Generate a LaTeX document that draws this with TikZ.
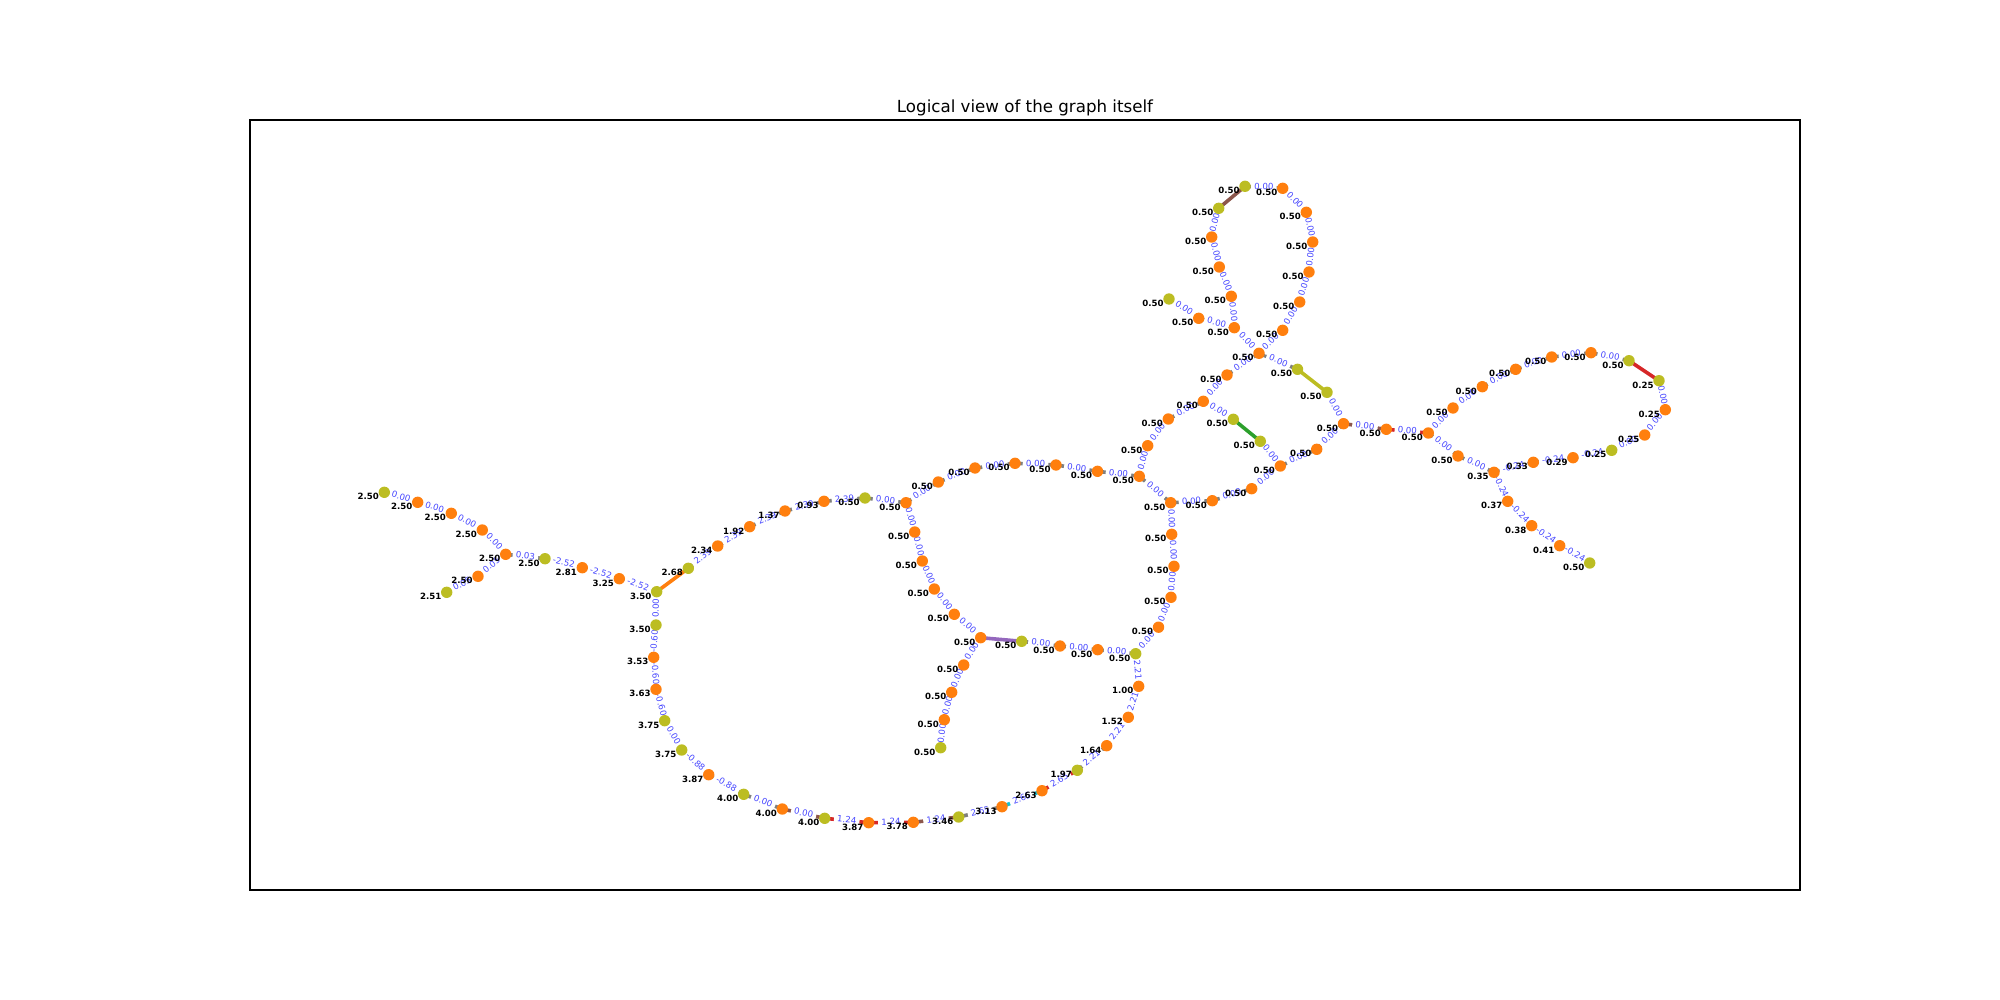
\documentclass[tikz,border=0pt]{standalone}
\usepackage{fontspec}
\setmainfont{DejaVu Sans}
\definecolor{tor}{HTML}{FF7F0E}
\definecolor{tol}{HTML}{BCBD22}
\definecolor{tre}{HTML}{D62728}
\definecolor{tbr}{HTML}{8C564B}
\definecolor{tgr}{HTML}{7F7F7F}
\definecolor{tcy}{HTML}{17BECF}
\definecolor{tpu}{HTML}{9467BD}
\definecolor{tgn}{HTML}{2CA02C}
\definecolor{elc}{RGB}{70,70,255}
\pgfdeclarelayer{edges}\pgfdeclarelayer{elabels}\pgfdeclarelayer{nlabels}
\pgfsetlayers{edges,elabels,main,nlabels}
\tikzset{
 vtx/.style={circle,inner sep=0pt,minimum size=8.2pt,draw=none},
 nlab/.style={font=\fontsize{6.2}{7}\selectfont\bfseries,inner sep=0pt,text=black},
 elab/.style={font=\fontsize{6.2}{7}\selectfont,text=elc,fill=white,inner xsep=2.3pt,inner ysep=1.8pt,rounded corners=1pt,text height=4.8pt,text depth=1.3pt},
 edg/.style={line width=2.6pt}}
\newcommand\nd[4]{\node[vtx,fill=#3] (#1) at (#2) {};%
 \begin{pgfonlayer}{nlabels}\node[nlab] (#1l) at ([shift={(-16,4.5)}]#1.center) {#4};\end{pgfonlayer}}
\newcommand\ed[4]{\begin{pgfonlayer}{edges}\draw[edg,#3] (#1.center) -- (#2.center);\end{pgfonlayer}%
 \ifx\relax#4\relax\else\begin{pgfonlayer}{elabels}\path (#1.center) -- (#2.center) node[elab,midway,sloped] {#4};\end{pgfonlayer}\fi}
\begin{document}
\begin{tikzpicture}[x=0.72pt,y=-0.72pt]
\useasboundingbox (0,0) rectangle (2000,1000);
\draw[line width=0.8pt] (250,120) rectangle (1800,890);
\node[anchor=base,font=\fontsize{12}{14}\selectfont,inner sep=0pt] (title) at (1025,112) {Logical view of the graph itself};
% left part
\nd{n1}{384.3,492.3}{tol}{2.50}
\nd{n2}{417.7,502.3}{tor}{2.50}
\nd{n3}{451.3,513.3}{tor}{2.50}
\nd{n4}{482.3,530}{tor}{2.50}
\nd{n5}{505.7,554.3}{tor}{2.50}
\nd{n6}{545,558.7}{tol}{2.50}
\nd{n7}{582.3,567.7}{tor}{2.81}
\nd{n8}{619.3,578.7}{tor}{3.25}
\nd{n9}{656.7,591.7}{tol}{3.50}
\nd{b1}{478,576.3}{tor}{2.50}
\nd{b2}{446.7,592.3}{tol}{2.51}
\nd{n10}{688.3,568.3}{tol}{2.68}
\nd{n11}{717.7,546}{tor}{2.34}
\nd{n12}{749.7,526.7}{tor}{1.92}
\nd{n13}{785,511}{tor}{1.37}
\nd{n14}{824,501.3}{tor}{0.93}
\nd{n15}{865,498}{tol}{0.50}
\nd{n16}{906,502.7}{tor}{0.50}
% bottom loop
\nd{c1}{656,625}{tol}{3.50}
\nd{c2}{653.7,657.3}{tor}{3.53}
\nd{c3}{656,689.3}{tor}{3.63}
\nd{c4}{664.7,720.7}{tol}{3.75}
\nd{c5}{681.7,750}{tol}{3.75}
\nd{c6}{708.7,774.7}{tor}{3.87}
\nd{c7}{743.7,794.3}{tol}{4.00}
\nd{c8}{782.3,809}{tor}{4.00}
\nd{c9}{824.7,818.3}{tol}{4.00}
\nd{c10}{868.7,822.7}{tor}{3.87}
\nd{c11}{913.3,822.3}{tor}{3.78}
\nd{c12}{958.7,817}{tol}{3.46}
\nd{c13}{1002,806.7}{tor}{3.13}
\nd{c14}{1042,790.7}{tor}{2.63}
\nd{c15}{1077.3,770.3}{tol}{1.97}
\nd{c16}{1106.7,745.7}{tor}{1.64}
\nd{c17}{1128.3,717.3}{tor}{1.52}
\nd{c18}{1138.7,686.3}{tor}{1.00}
\nd{c19}{1135.7,653.7}{tol}{0.50}
\nd{c20}{1158.5,627.2}{tor}{0.50}
% inner branch
\nd{e1}{914.7,532}{tor}{0.50}
\nd{e2}{922.3,561}{tor}{0.50}
\nd{e3}{934.3,589}{tor}{0.50}
\nd{e4}{954.3,614.3}{tor}{0.50}
\nd{e5}{980.7,637.7}{tor}{0.50}
\nd{d1}{1021.7,641.3}{tol}{0.50}
\nd{d2}{1060,646}{tor}{0.50}
\nd{d3}{1097.7,649.7}{tor}{0.50}
\nd{f1}{963.7,665}{tor}{0.50}
\nd{f2}{951.7,692.3}{tor}{0.50}
\nd{f3}{944.3,719.7}{tor}{0.50}
\nd{f4}{940.7,747.7}{tol}{0.50}
% right column and arc
\nd{g1}{1171,597.3}{tor}{0.50}
\nd{g2}{1174,566.3}{tor}{0.50}
\nd{g3}{1171.7,534.3}{tor}{0.50}
\nd{g4}{1170.7,502.7}{tor}{0.50}
\nd{h0}{1139.3,476.3}{tor}{0.50}
\nd{a1}{938.3,482}{tor}{0.50}
\nd{a2}{975,468}{tor}{0.50}
\nd{a3}{1015,463.3}{tor}{0.50}
\nd{a4}{1056,465}{tor}{0.50}
\nd{a5}{1097.5,471.3}{tor}{0.50}
\nd{h1}{1147.7,445.7}{tor}{0.50}
\nd{h2}{1168.3,419}{tor}{0.50}
\nd{h3}{1203.3,401.3}{tor}{0.50}
\nd{h4}{1227,375}{tor}{0.50}
\nd{k1}{1233.3,419.3}{tol}{0.50}
\nd{k2}{1260.3,441.3}{tol}{0.50}
\nd{m1}{1212.3,500.7}{tor}{0.50}
\nd{m2}{1251.7,488.7}{tor}{0.50}
\nd{m3}{1280.3,466}{tor}{0.50}
\nd{m4}{1316.7,449.3}{tor}{0.50}
\nd{m5}{1343.5,423.7}{tor}{0.50}
\nd{X}{1259,353.3}{tor}{0.50}
\nd{o1}{1297.5,369.3}{tol}{0.50}
\nd{o2}{1327,392.3}{tol}{0.50}
% far right loop
\nd{r1}{1386.3,429.3}{tor}{0.50}
\nd{r2}{1428.3,433}{tor}{0.50}
\nd{r3}{1453,408}{tor}{0.50}
\nd{r4}{1482.3,386.7}{tor}{0.50}
\nd{r5}{1515.7,369.3}{tor}{0.50}
\nd{r6}{1551.7,357}{tor}{0.50}
\nd{r7}{1591,352.7}{tor}{0.50}
\nd{r8}{1629,360.7}{tol}{0.50}
\nd{r9}{1659,380.7}{tol}{0.25}
\nd{r10}{1665.3,409.7}{tor}{0.25}
\nd{r11}{1644.7,435}{tor}{0.25}
\nd{r12}{1611.7,450.3}{tol}{0.25}
\nd{r13}{1573,457.7}{tor}{0.29}
\nd{r14}{1533.3,462.3}{tor}{0.33}
\nd{r15}{1494,472.3}{tor}{0.35}
\nd{r16}{1458,456}{tor}{0.50}
\nd{s1}{1507.7,501.3}{tor}{0.37}
\nd{s2}{1531.7,525.7}{tor}{0.38}
\nd{s3}{1559.7,545.7}{tor}{0.41}
\nd{s4}{1589.7,563}{tol}{0.50}
% top loop
\nd{t1}{1245,186.3}{tol}{0.50}
\nd{t0}{1218.7,208.3}{tol}{0.50}
\nd{u1}{1282.7,188.3}{tor}{0.50}
\nd{u2}{1306.3,212.3}{tor}{0.50}
\nd{u3}{1312.7,242}{tor}{0.50}
\nd{u4}{1309,272}{tor}{0.50}
\nd{u5}{1299.7,302}{tor}{0.50}
\nd{u6}{1282.7,330.3}{tor}{0.50}
\nd{v1}{1211.7,237}{tor}{0.50}
\nd{v2}{1219.3,267}{tor}{0.50}
\nd{v3}{1231.3,296.3}{tor}{0.50}
\nd{v4}{1234.3,327.7}{tor}{0.50}
\nd{w1}{1169,299}{tol}{0.50}
\nd{w2}{1198.7,318.3}{tor}{0.50}
% edges
\ed{n1}{n2}{tgr}{0.00}
\ed{n2}{n3}{tgr}{0.00}
\ed{n3}{n4}{tgr}{0.00}
\ed{n4}{n5}{tgr}{0.00}
\ed{n5}{n6}{tgr}{0.03}
\ed{n6}{n7}{tgr}{-2.52}
\ed{n7}{n8}{tgr}{-2.52}
\ed{n8}{n9}{tgr}{-2.52}
\ed{n5}{b1}{tgr}{0.05}
\ed{b1}{b2}{tgr}{0.05}
\ed{n9}{n10}{tor}{}
\ed{n10}{n11}{tgr}{2.39}
\ed{n11}{n12}{tgr}{2.39}
\ed{n12}{n13}{tgr}{2.39}
\ed{n13}{n14}{tgr}{2.39}
\ed{n14}{n15}{tgr}{2.39}
\ed{n15}{n16}{tgr}{0.00}
\ed{n9}{c1}{tgr}{0.00}
\ed{c1}{c2}{tgr}{-0.60}
\ed{c2}{c3}{tgr}{-0.60}
\ed{c3}{c4}{tgr}{-0.60}
\ed{c4}{c5}{tgr}{0.00}
\ed{c5}{c6}{tgr}{-0.88}
\ed{c6}{c7}{tgr}{-0.88}
\ed{c7}{c8}{tgr}{0.00}
\ed{c8}{c9}{tbr}{0.00}
\ed{c9}{c10}{tre}{1.24}
\ed{c10}{c11}{tre}{1.24}
\ed{c11}{c12}{tbr}{1.24}
\ed{c12}{c13}{tgr}{2.65}
\ed{c13}{c14}{tcy}{2.65}
\ed{c14}{c15}{tre}{2.65}
\ed{c15}{c16}{tgr}{2.21}
\ed{c16}{c17}{tgr}{2.21}
\ed{c17}{c18}{tgr}{2.21}
\ed{c18}{c19}{tgr}{2.21}
\ed{c19}{c20}{tgr}{0.00}
\ed{n16}{e1}{tgr}{0.00}
\ed{e1}{e2}{tgr}{0.00}
\ed{e2}{e3}{tgr}{0.00}
\ed{e3}{e4}{tgr}{0.00}
\ed{e4}{e5}{tgr}{0.00}
\ed{e5}{d1}{tpu}{}
\ed{d1}{d2}{tgr}{0.00}
\ed{d2}{d3}{tgr}{0.00}
\ed{d3}{c19}{tgr}{0.00}
\ed{e5}{f1}{tgr}{0.00}
\ed{f1}{f2}{tgr}{0.00}
\ed{f2}{f3}{tgr}{0.00}
\ed{f3}{f4}{tgr}{0.00}
\ed{c20}{g1}{tgr}{0.00}
\ed{g1}{g2}{tgr}{0.00}
\ed{g2}{g3}{tgr}{0.00}
\ed{g3}{g4}{tgr}{0.00}
\ed{g4}{h0}{tgr}{0.00}
\ed{n16}{a1}{tgr}{0.00}
\ed{a1}{a2}{tgr}{0.00}
\ed{a2}{a3}{tgr}{0.00}
\ed{a3}{a4}{tgr}{0.00}
\ed{a4}{a5}{tgr}{0.00}
\ed{a5}{h0}{tgr}{0.00}
\ed{h0}{h1}{tgr}{0.00}
\ed{h1}{h2}{tgr}{0.00}
\ed{h2}{h3}{tgr}{0.00}
\ed{h3}{h4}{tgr}{0.00}
\ed{h4}{X}{tgr}{0.00}
\ed{h3}{k1}{tgr}{0.00}
\ed{k1}{k2}{tgn}{}
\ed{k2}{m3}{tgr}{0.00}
\ed{g4}{m1}{tgr}{0.00}
\ed{m1}{m2}{tgr}{0.00}
\ed{m2}{m3}{tgr}{0.00}
\ed{m3}{m4}{tgr}{0.00}
\ed{m4}{m5}{tgr}{0.00}
\ed{X}{o1}{tgr}{0.00}
\ed{o1}{o2}{tol}{}
\ed{o2}{m5}{tgr}{0.00}
\ed{m5}{r1}{tbr}{0.00}
\ed{r1}{r2}{tre}{0.00}
\ed{r2}{r3}{tgr}{0.00}
\ed{r3}{r4}{tgr}{0.00}
\ed{r4}{r5}{tgr}{0.00}
\ed{r5}{r6}{tgr}{0.00}
\ed{r6}{r7}{tgr}{0.00}
\ed{r7}{r8}{tgr}{0.00}
\ed{r8}{r9}{tre}{}
\ed{r9}{r10}{tgr}{0.00}
\ed{r10}{r11}{tgr}{0.00}
\ed{r11}{r12}{tgr}{0.00}
\ed{r12}{r13}{tgr}{-0.24}
\ed{r13}{r14}{tgr}{-0.24}
\ed{r14}{r15}{tgr}{-0.24}
\ed{r2}{r16}{tgr}{0.00}
\ed{r16}{r15}{tgr}{0.00}
\ed{r15}{s1}{tgr}{-0.24}
\ed{s1}{s2}{tgr}{-0.24}
\ed{s2}{s3}{tgr}{-0.24}
\ed{s3}{s4}{tgr}{-0.24}
\ed{t0}{t1}{tbr}{}
\ed{t1}{u1}{tgr}{0.00}
\ed{u1}{u2}{tgr}{0.00}
\ed{u2}{u3}{tgr}{0.00}
\ed{u3}{u4}{tgr}{0.00}
\ed{u4}{u5}{tgr}{0.00}
\ed{u5}{u6}{tgr}{0.00}
\ed{u6}{X}{tgr}{0.00}
\ed{t0}{v1}{tgr}{0.00}
\ed{v1}{v2}{tgr}{0.00}
\ed{v2}{v3}{tgr}{0.00}
\ed{v3}{v4}{tgr}{0.00}
\ed{v4}{X}{tgr}{0.00}
\ed{w1}{w2}{tgr}{0.00}
\ed{w2}{v4}{tgr}{0.00}
\end{tikzpicture}
\end{document}
